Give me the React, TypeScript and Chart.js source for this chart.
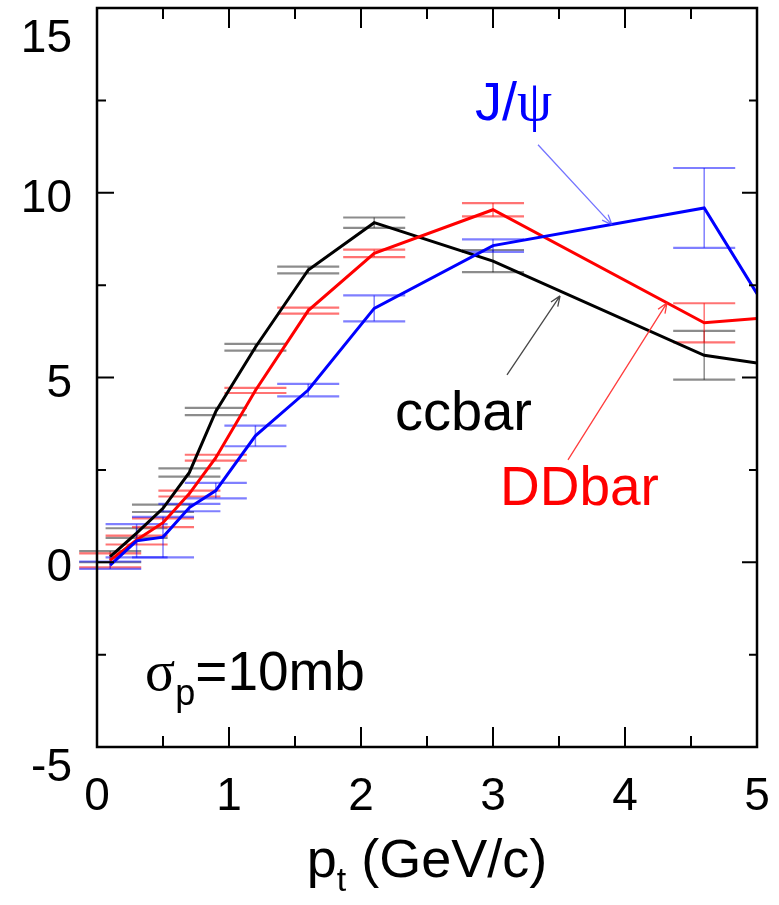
import React, { useEffect, useRef } from "react";
import { Chart, registerables } from "chart.js";

Chart.register(...registerables);

// ---- data ----
const ptValues = [0.1, 0.3, 0.5, 0.7, 0.9, 1.2, 1.6, 2.1, 3.0, 4.6, 5.0];

const ccbarValues = [0.15, 0.79, 1.46, 2.43, 4.08, 5.82, 7.91, 9.19, 8.15, 5.6, 5.39];
const ccbarErrors = [0.15, 0.13, 0.1, 0.11, 0.1, 0.09, 0.09, 0.14, 0.3, 0.66, null];

const ddbarValues = [0.05, 0.6, 1.07, 1.86, 2.83, 4.65, 6.81, 8.36, 9.54, 6.48, 6.6];
const ddbarErrors = [0.19, 0.12, 0.12, 0.08, 0.08, 0.07, 0.08, 0.1, 0.18, 0.53, null];

const jpsiValues = [-0.08, 0.58, 0.68, 1.48, 1.94, 3.42, 4.66, 6.87, 8.57, 9.59, 7.27];
const jpsiErrors = [0.1, 0.45, 0.55, 0.1, 0.21, 0.28, 0.17, 0.35, 0.17, 1.08, null];

const xTickLabels = ["0", "1", "2", "3", "4", "5"];
const yTickLabels = ["-5", "0", "5", "10", "15"];

const xAxisTitle = { main: "p", sub: "t", rest: " (GeV/c)" };

// ---- styles ----
const capHalfWidth = 0.235; // half width of error-bar caps, in x units
const SANS = '"Liberation Sans", Arial, Helvetica, sans-serif';
const SERIF = '"Liberation Serif", "Times New Roman", serif';

const seriesList = [
  { label: "ccbar", values: ccbarValues, errors: ccbarErrors, color: "#000000", errColor: "rgba(0,0,0,0.45)" },
  { label: "DDbar", values: ddbarValues, errors: ddbarErrors, color: "#ff0000", errColor: "rgba(255,0,0,0.55)" },
  { label: "J/ψ", values: jpsiValues, errors: jpsiErrors, color: "#0000ff", errColor: "rgba(0,0,255,0.5)" },
];

function arrow(ctx: CanvasRenderingContext2D, x1: number, y1: number, x2: number, y2: number, color: string) {
  ctx.save();
  ctx.strokeStyle = color;
  ctx.lineWidth = 1.3;
  ctx.beginPath();
  ctx.moveTo(x1, y1);
  ctx.lineTo(x2, y2);
  const ang = Math.atan2(y2 - y1, x2 - x1);
  const L = 11;
  const spread = 0.38;
  ctx.moveTo(x2, y2);
  ctx.lineTo(x2 - L * Math.cos(ang - spread), y2 - L * Math.sin(ang - spread));
  ctx.moveTo(x2, y2);
  ctx.lineTo(x2 - L * Math.cos(ang + spread), y2 - L * Math.sin(ang + spread));
  ctx.stroke();
  ctx.restore();
}

const overlayPlugin = {
  id: "overlay",
  beforeDatasetsDraw(chart: any) {
    const ctx: CanvasRenderingContext2D = chart.ctx;
    const xs = chart.scales.x;
    const ys = chart.scales.y;
    seriesList.forEach((s) => {
      ctx.save();
      ctx.strokeStyle = s.errColor;
      s.values.forEach((v, i) => {
        const e = s.errors[i];
        if (e == null) return;
        const x = ptValues[i];
        const px = xs.getPixelForValue(x);
        const xl = xs.getPixelForValue(x - capHalfWidth);
        const xr = xs.getPixelForValue(x + capHalfWidth);
        const yt = ys.getPixelForValue(v + e);
        const yb = ys.getPixelForValue(v - e);
        ctx.lineWidth = 2.2;
        ctx.beginPath();
        ctx.moveTo(xl, yt);
        ctx.lineTo(xr, yt);
        ctx.moveTo(xl, yb);
        ctx.lineTo(xr, yb);
        ctx.stroke();
        ctx.lineWidth = 1.5;
        ctx.beginPath();
        ctx.moveTo(px, yt);
        ctx.lineTo(px, yb);
        ctx.stroke();
      });
      ctx.restore();
    });
  },
  afterDraw(chart: any) {
    const ctx: CanvasRenderingContext2D = chart.ctx;
    const a = chart.chartArea;
    const xs = chart.scales.x;
    const ys = chart.scales.y;
    const X = (v: number) => xs.getPixelForValue(v);
    const Y = (v: number) => ys.getPixelForValue(v);

    ctx.save();
    // frame
    ctx.strokeStyle = "#000";
    ctx.lineWidth = 2.5;
    ctx.strokeRect(a.left, a.top, a.right - a.left, a.bottom - a.top);

    // ticks (inward on all four sides)
    const xMajors = xTickLabels.map(Number);
    const yMajors = yTickLabels.map(Number);
    ctx.lineWidth = 2;
    ctx.beginPath();
    xMajors.forEach((v, i) => {
      const px = X(v);
      ctx.moveTo(px, a.bottom);
      ctx.lineTo(px, a.bottom - 20);
      ctx.moveTo(px, a.top);
      ctx.lineTo(px, a.top + 20);
      if (i < xMajors.length - 1) {
        const m = X((v + xMajors[i + 1]) / 2);
        ctx.moveTo(m, a.bottom);
        ctx.lineTo(m, a.bottom - 11);
        ctx.moveTo(m, a.top);
        ctx.lineTo(m, a.top + 11);
      }
    });
    yMajors.forEach((v, i) => {
      const py = Y(v);
      ctx.moveTo(a.left, py);
      ctx.lineTo(a.left + 17, py);
      ctx.moveTo(a.right, py);
      ctx.lineTo(a.right - 15, py);
      if (i < yMajors.length - 1) {
        const m = Y((v + yMajors[i + 1]) / 2);
        ctx.moveTo(a.left, m);
        ctx.lineTo(a.left + 9, m);
        ctx.moveTo(a.right, m);
        ctx.lineTo(a.right - 8, m);
      }
    });
    ctx.stroke();

    // tick labels
    ctx.fillStyle = "#000";
    ctx.font = `46px ${SANS}`;
    ctx.textBaseline = "alphabetic";
    ctx.textAlign = "center";
    xTickLabels.forEach((t) => {
      ctx.fillText(t, X(Number(t)), a.bottom + 63);
    });
    ctx.textAlign = "right";
    yTickLabels.forEach((t, i) => {
      const off = i === 0 ? 34 : i === yTickLabels.length - 1 ? 44 : 19;
      ctx.fillText(t, a.left - 25, Y(Number(t)) + off);
    });

    // axis title
    const titleBase = a.bottom + 130;
    ctx.textAlign = "left";
    const mainFont = `54px ${SANS}`;
    const subFont = `34px ${SANS}`;
    ctx.font = mainFont;
    const w1 = ctx.measureText(xAxisTitle.main).width;
    const w3 = ctx.measureText(xAxisTitle.rest).width;
    ctx.font = subFont;
    const w2 = ctx.measureText(xAxisTitle.sub).width;
    let tx = (a.left + a.right) / 2 - (w1 + w2 + w3) / 2;
    ctx.font = mainFont;
    ctx.fillText(xAxisTitle.main, tx, titleBase);
    tx += w1;
    ctx.font = subFont;
    ctx.fillText(xAxisTitle.sub, tx, titleBase + 14);
    tx += w2;
    ctx.font = mainFont;
    ctx.fillText(xAxisTitle.rest, tx, titleBase);

    // annotations
    // J/psi
    ctx.fillStyle = "#0000ff";
    ctx.font = `54px ${SANS}`;
    let jx = X(2.864);
    const jy = Y(11.97);
    ctx.fillText("J/", jx, jy);
    jx += ctx.measureText("J/").width;
    ctx.font = `56px ${SERIF}`;
    ctx.fillText("ψ", jx, jy);
    arrow(ctx, X(3.341), Y(11.3), X(3.902), Y(9.13), "rgba(70,70,255,0.75)");

    // ccbar
    ctx.fillStyle = "#000";
    ctx.font = `56px ${SANS}`;
    ctx.fillText("ccbar", X(2.258), Y(3.58));
    arrow(ctx, X(3.106), Y(5.07), X(3.508), Y(7.21), "rgba(40,40,40,0.85)");

    // DDbar
    ctx.fillStyle = "#ff0000";
    ctx.font = `55px ${SANS}`;
    ctx.fillText("DDbar", X(3.053), Y(1.55));
    arrow(ctx, X(3.568), Y(2.77), X(4.318), Y(7.02), "rgba(255,40,40,0.9)");

    // sigma_p = 10mb
    ctx.fillStyle = "#000";
    let sx = X(0.364);
    const sy = Y(-3.45);
    ctx.font = `56px ${SERIF}`;
    ctx.fillText("σ", sx, sy);
    sx += ctx.measureText("σ").width;
    ctx.font = `36px ${SANS}`;
    ctx.fillText("p", sx, sy + 15);
    sx += ctx.measureText("p").width;
    ctx.font = `55px ${SANS}`;
    ctx.fillText("=10mb", sx, sy);

    ctx.restore();
  },
};

export default function App() {
  const ref = useRef<HTMLCanvasElement>(null);
  useEffect(() => {
    const canvas = ref.current;
    if (!canvas) return;
    const ordered = seriesList.slice().reverse(); // J/psi drawn on top
    const chart = new Chart(canvas, {
      type: "line",
      data: {
        datasets: ordered.map((s) => ({
          label: s.label,
          data: ptValues.map((x, i) => ({ x, y: s.values[i] })),
          borderColor: s.color,
          backgroundColor: s.color,
          borderWidth: 3,
          pointRadius: 0,
          fill: false,
          tension: 0,
        })),
      },
      options: {
        animation: false,
        responsive: false,
        devicePixelRatio: 1,
        events: [],
        layout: { padding: { left: 97, right: 22, top: 8, bottom: 158 } },
        scales: {
          x: { type: "linear", min: 0, max: 5, display: false },
          y: { type: "linear", min: -5, max: 15, display: false },
        },
        plugins: {
          legend: { display: false },
          tooltip: { enabled: false },
        },
      },
      plugins: [overlayPlugin],
    } as any);
    return () => chart.destroy();
  }, []);
  return (
    <div style={{ position: "absolute", left: 0, top: 0, width: 779, height: 905, background: "#fff" }}>
      <canvas ref={ref} width={779} height={905} style={{ display: "block", width: 779, height: 905 }} />
    </div>
  );
}
